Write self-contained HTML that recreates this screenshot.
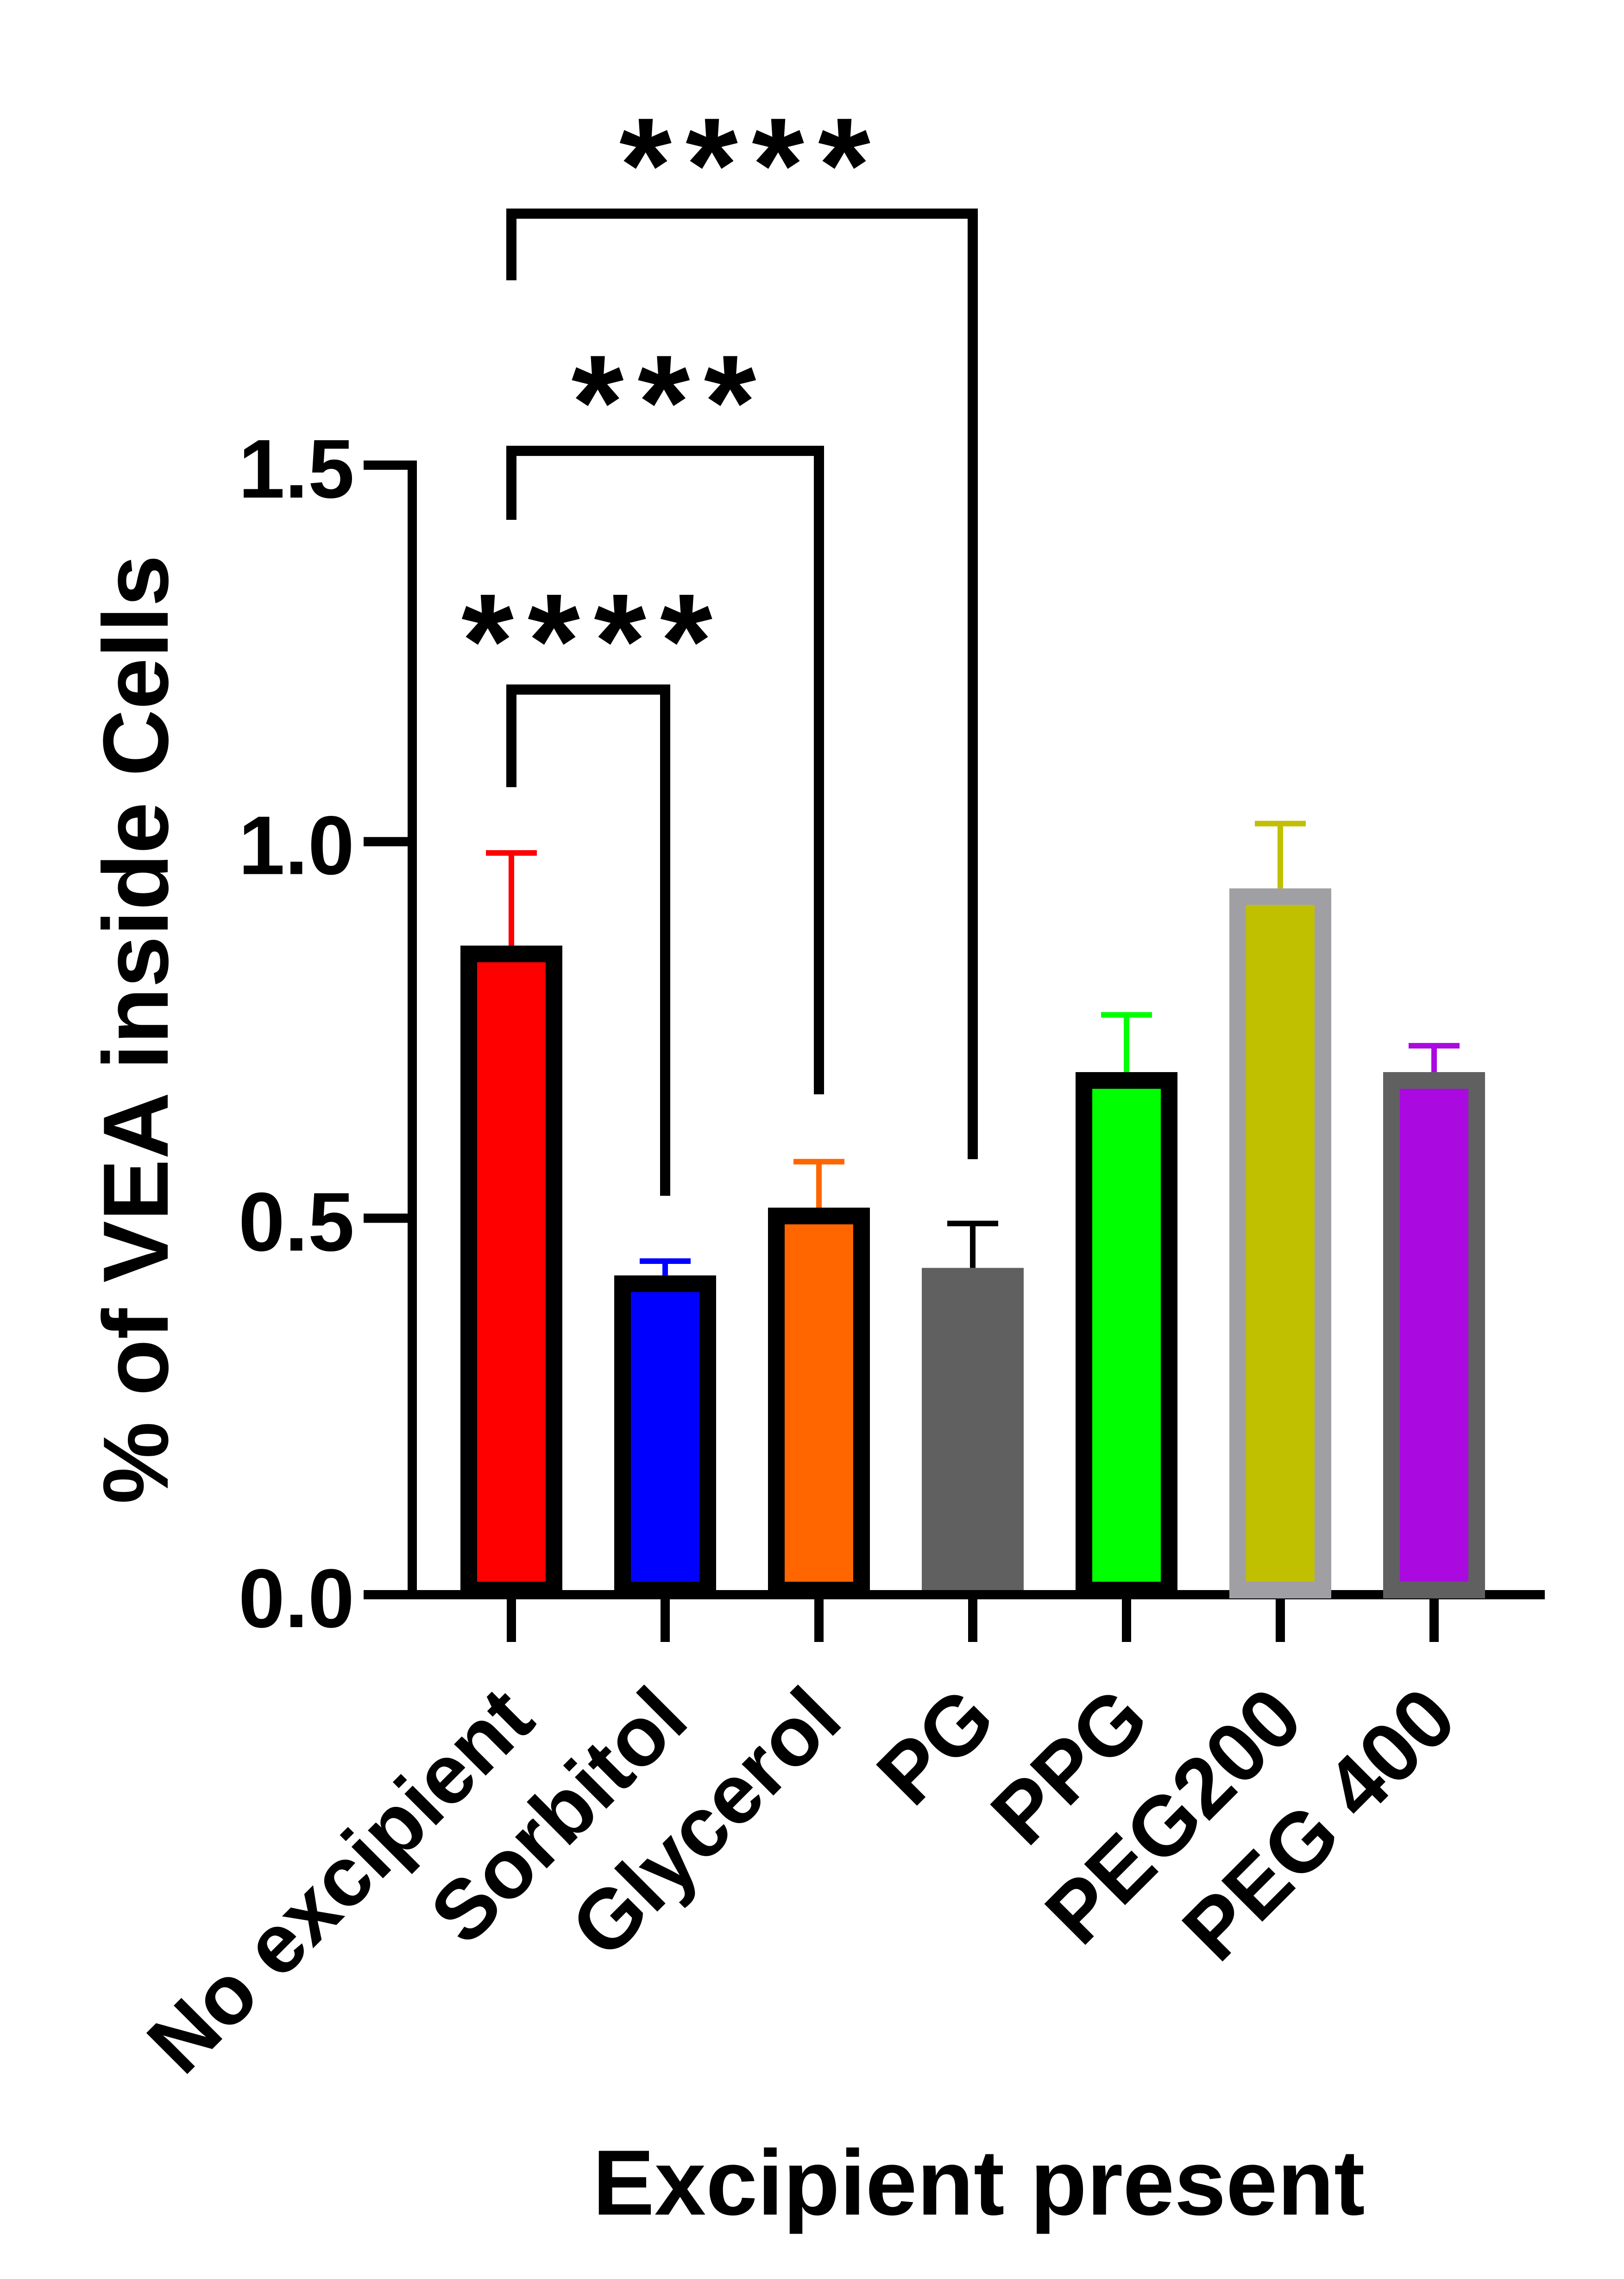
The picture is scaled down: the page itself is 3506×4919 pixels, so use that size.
<!DOCTYPE html>
<html><head><meta charset="utf-8"><style>
html,body{margin:0;padding:0;background:#fff;}
svg{display:block;font-family:"Liberation Sans",Arial,sans-serif;font-weight:bold;}
</style></head><body>
<svg id="chart" width="3506" height="4919" viewBox="0 0 3506 4919" xmlns="http://www.w3.org/2000/svg">
<rect width="3506" height="4919" fill="#fff"/>
<g id="axes"></g>
<g id="bars"></g>
<g id="sig"></g>
<text transform="translate(362,2222) rotate(-90)" text-anchor="middle" font-size="200">% of VEA inside Cells</text>
<text x="2113" y="4780" text-anchor="middle" font-size="200">Excipient present</text>
</svg>
<script>
const categories = ["No excipient","Sorbitol","Glycerol","PG","PPG","PEG200","PEG 400"];
const means = [0.862,0.424,0.514,0.434,0.694,0.938,0.694];
const errors = [0.123,0.019,0.061,0.059,0.076,0.086,0.035];
const fills = ["#ff0000","#0000ff","#ff6600","#606060","#00ff00","#c0c000","#aa0ae0"];
const borders = ["#000","#000","#000","none","#000","#a0a0a4","#606060"];
const errColors = ["#ff0000","#0000ff","#ff6600","#000","#00ff00","#c0c000","#aa0ae0"];
const yTicks = [0,0.5,1.0,1.5];
const yTickLabels = ["0.0","0.5","1.0","1.5"];
const sigFrom = [0,0,0];
const sigTo = [1,2,3];
const sigLevel = [1.202,1.519,1.834];
const sigLabels = ["****","***","****"];

const NS="http://www.w3.org/2000/svg";
const Y0=3442, PXU=(3442-1004)/1.5;
const y=v=>Y0-v*PXU;
const X0=1104, STEP=332;
const x=i=>X0+i*STEP;
function mk(tag,attrs,parent){const e=document.createElementNS(NS,tag);for(const k in attrs)e.setAttribute(k,attrs[k]);parent.appendChild(e);return e;}
const axes=document.getElementById('axes'), bars=document.getElementById('bars'), sig=document.getElementById('sig');

let l=mk('line',{x1:890,y1:y(1.5)-10,x2:890,y2:Y0,stroke:'#000','stroke-width':20},axes);


l=mk('line',{x1:785,y1:Y0,x2:3335,y2:Y0,stroke:'#000','stroke-width':20},axes);


yTicks.forEach((t,i)=>{
  const tk=mk('line',{x1:785,y1:y(t),x2:890,y2:y(t),stroke:'#000','stroke-width':20},axes);
  
  
  const tl=mk('text',{x:765,y:y(t)+70,'text-anchor':'end','font-size':180},axes);
  tl.textContent=yTickLabels[i];
  
  
});
categories.forEach((c,i)=>{
  const cx=x(i);
  const tk=mk('line',{x1:cx,y1:Y0,x2:cx,y2:3544,stroke:'#000','stroke-width':20},axes);
  
  
  const tl=mk('text',{transform:`translate(${cx+57},${3720}) rotate(-45)`,'text-anchor':'end','font-size':182},axes);
  tl.textContent=c;
  
  
  const et=y(means[i]+errors[i]);
  const e1=mk('line',{x1:cx,y1:y(means[i]),x2:cx,y2:et,stroke:errColors[i],'stroke-width':12},bars);
  
  
  const e2=mk('line',{x1:cx-55,y1:et,x2:cx+55,y2:et,stroke:errColors[i],'stroke-width':12},bars);
  
  
  let r;
  if(borders[i]==='none'){
    r=mk('rect',{x:cx-110,y:y(means[i]),width:220,height:Y0-10-y(means[i]),fill:fills[i]},bars);
  } else {
    r=mk('rect',{x:cx-92,y:y(means[i])+18,width:184,height:Y0-10-y(means[i])-18,fill:fills[i],stroke:borders[i],'stroke-width':36},bars);
  }
  
  
});
const legBottoms=[[1699,2581],[1122,2362],[605,2502]];
sigFrom.forEach((f,k)=>{
  const yy=y(sigLevel[k]);
  const x1=x(f), x2=x(sigTo[k]);
  const p=mk('polyline',{points:`${x1},${legBottoms[k][0]} ${x1},${yy} ${x2},${yy} ${x2},${legBottoms[k][1]}`,fill:'none',stroke:'#000','stroke-width':22},sig);
  
  
  const mid=(x1+x2)/2 + (k===2?6:-3);
  const n=sigLabels[k].length;
  const xs=[];for(let j=0;j<n;j++)xs.push(mid+(j-(n-1)/2)*143);
  const t=mk('text',{x:xs.join(' '),y:yy-155+150,'text-anchor':'middle','font-size':290},sig);
  t.textContent=sigLabels[k];
  
  
});
</script>
</body></html>
